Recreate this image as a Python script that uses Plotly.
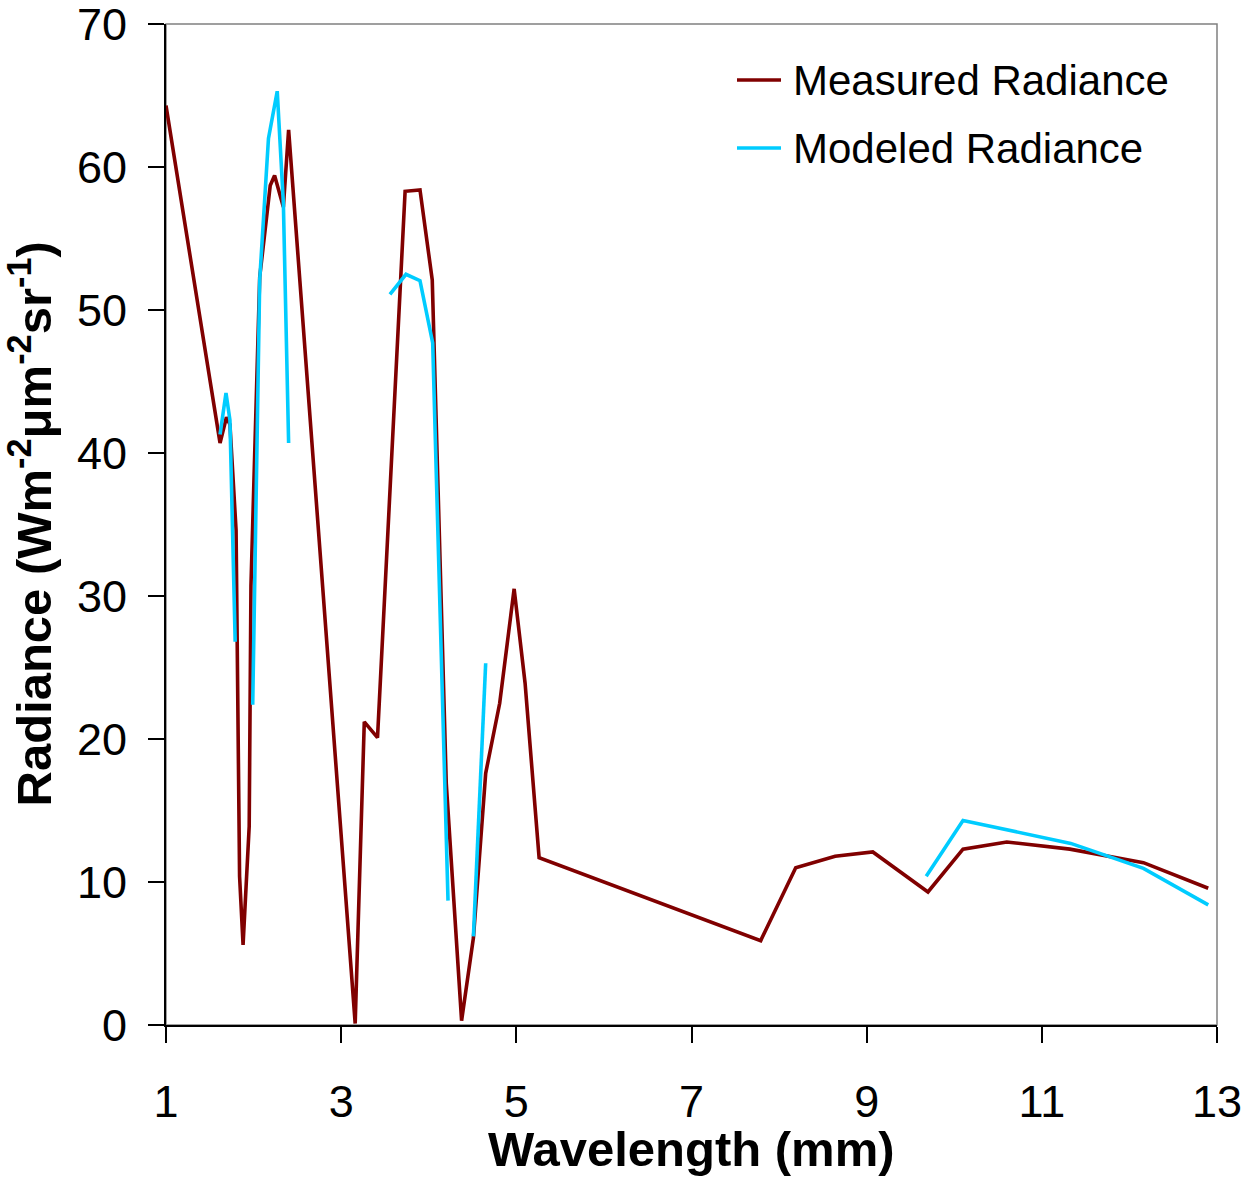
import plotly.graph_objects as go

# Measured spectrum (wavelength, radiance)
measured_wl = [1.00, 1.617, 1.69, 1.73, 1.80, 1.84, 1.88, 1.95, 1.97, 2.07, 2.19, 2.24,
               2.34, 2.40, 3.16, 3.264, 3.415, 3.73, 3.90, 4.04, 4.20, 4.375, 4.51,
               4.65, 4.81, 4.975, 5.10, 5.26, 7.79, 8.19, 8.64, 9.07, 9.70, 10.10,
               10.60, 11.32, 12.16, 12.90]
measured_rad = [64.3, 40.7, 42.5, 42.0, 34.6, 10.4, 5.6, 13.9, 30.7, 52.3, 58.7, 59.4,
                57.2, 62.6, 0.1, 21.2, 20.1, 58.3, 58.4, 52.1, 16.9, 0.3, 6.1,
                17.6, 22.5, 30.5, 23.9, 11.7, 5.9, 11.0, 11.8, 12.1, 9.3, 12.3,
                12.8, 12.3, 11.35, 9.56]

# Modeled spectrum; None breaks the line between modeled bands
modeled_wl = [1.617, 1.685, 1.73, 1.79, None, 1.99, 2.07, 2.17, 2.27, 2.34, 2.40, None,
              3.557, 3.74, 3.90, 4.045, 4.22, None, 4.51, 4.65, None,
              9.68, 10.10, 11.33, 12.16, 12.90]
modeled_rad = [41.3, 44.2, 42.3, 26.8, None, 22.4, 52.1, 62.0, 65.3, 57.5, 40.7, None,
               51.1, 52.5, 52.05, 47.7, 8.7, None, 6.2, 25.3, None,
               10.4, 14.3, 12.7, 10.95, 8.4]

x_ticks = [1, 3, 5, 7, 9, 11, 13]
y_ticks = [0, 10, 20, 30, 40, 50, 60, 70]

series_names = ["Measured Radiance", "Modeled Radiance"]
series_colors = ["#800000", "#00CCFF"]

FONT = "Liberation Sans, Arial, sans-serif"
W, H = 1249, 1182
ML, MR, MT, MB = 166, 32, 24, 157
PW, PH = W - ML - MR, H - MT - MB


def px_to_paper_x(px):
    return (px - ML) / PW


def px_to_paper_y(py):
    return (H - MB - py) / PH


fig = go.Figure()
fig.add_trace(go.Scatter(
    x=measured_wl, y=measured_rad, mode="lines", name=series_names[0],
    line=dict(color=series_colors[0], width=3.6),
))
fig.add_trace(go.Scatter(
    x=modeled_wl, y=modeled_rad, mode="lines", name=series_names[1],
    line=dict(color=series_colors[1], width=3.6), connectgaps=False,
))

# gray frame around the plot area
fig.add_shape(type="rect", xref="paper", yref="paper", x0=0, y0=0, x1=1, y1=1,
              line=dict(color="#808080", width=1.5), layer="below")

# legend: short line sample followed by the series name
for i, (name, color) in enumerate(zip(series_names, series_colors)):
    row_y = px_to_paper_y(80 + 68 * i)
    fig.add_shape(type="line", xref="paper", yref="paper",
                  x0=px_to_paper_x(737), x1=px_to_paper_x(781), y0=row_y, y1=row_y,
                  line=dict(color=color, width=3.6))
    fig.add_annotation(xref="paper", yref="paper", x=px_to_paper_x(791), y=row_y,
                       xanchor="left", yanchor="middle", showarrow=False,
                       text=name, font=dict(size=42, family=FONT, color="black"))

# axis titles
fig.add_annotation(xref="paper", yref="paper", x=0.5, y=px_to_paper_y(1149),
                   xanchor="center", yanchor="middle", showarrow=False,
                   text="<b>Wavelength (mm)</b>",
                   font=dict(size=49, family=FONT, color="black"))
fig.add_annotation(xref="paper", yref="paper", x=px_to_paper_x(30), y=0.5,
                   xanchor="center", yanchor="middle", showarrow=False, textangle=-90,
                   text="<b>Radiance (Wm<sup>-2</sup>μm<sup>-2</sup>sr<sup>-1</sup>)</b>",
                   font=dict(size=49, family=FONT, color="black"))

fig.update_layout(
    width=W, height=H,
    margin=dict(l=ML, r=MR, t=MT, b=MB, autoexpand=False),
    paper_bgcolor="white", plot_bgcolor="white",
    font=dict(family=FONT, color="black", size=44),
    showlegend=False,
    xaxis=dict(
        range=[1, 13], tickvals=x_ticks, ticktext=[str(v) for v in x_ticks],
        showgrid=False, zeroline=False, showline=True, linecolor="black", linewidth=2,
        ticks="outside", ticklen=16, tickwidth=1.5, tickcolor="black",
        tickfont=dict(size=45, family=FONT), ticklabelstandoff=20,
        ticklabeloverflow="allow",
    ),
    yaxis=dict(
        range=[0, 70], tickvals=y_ticks, ticktext=[str(v) for v in y_ticks],
        showgrid=False, zeroline=False, showline=True, linecolor="black", linewidth=2,
        ticks="outside", ticklen=16, tickwidth=1.5, tickcolor="black",
        tickfont=dict(size=45, family=FONT), ticklabelstandoff=12,
        ticklabeloverflow="allow",
    ),
)

fig.write_html("out.html")
